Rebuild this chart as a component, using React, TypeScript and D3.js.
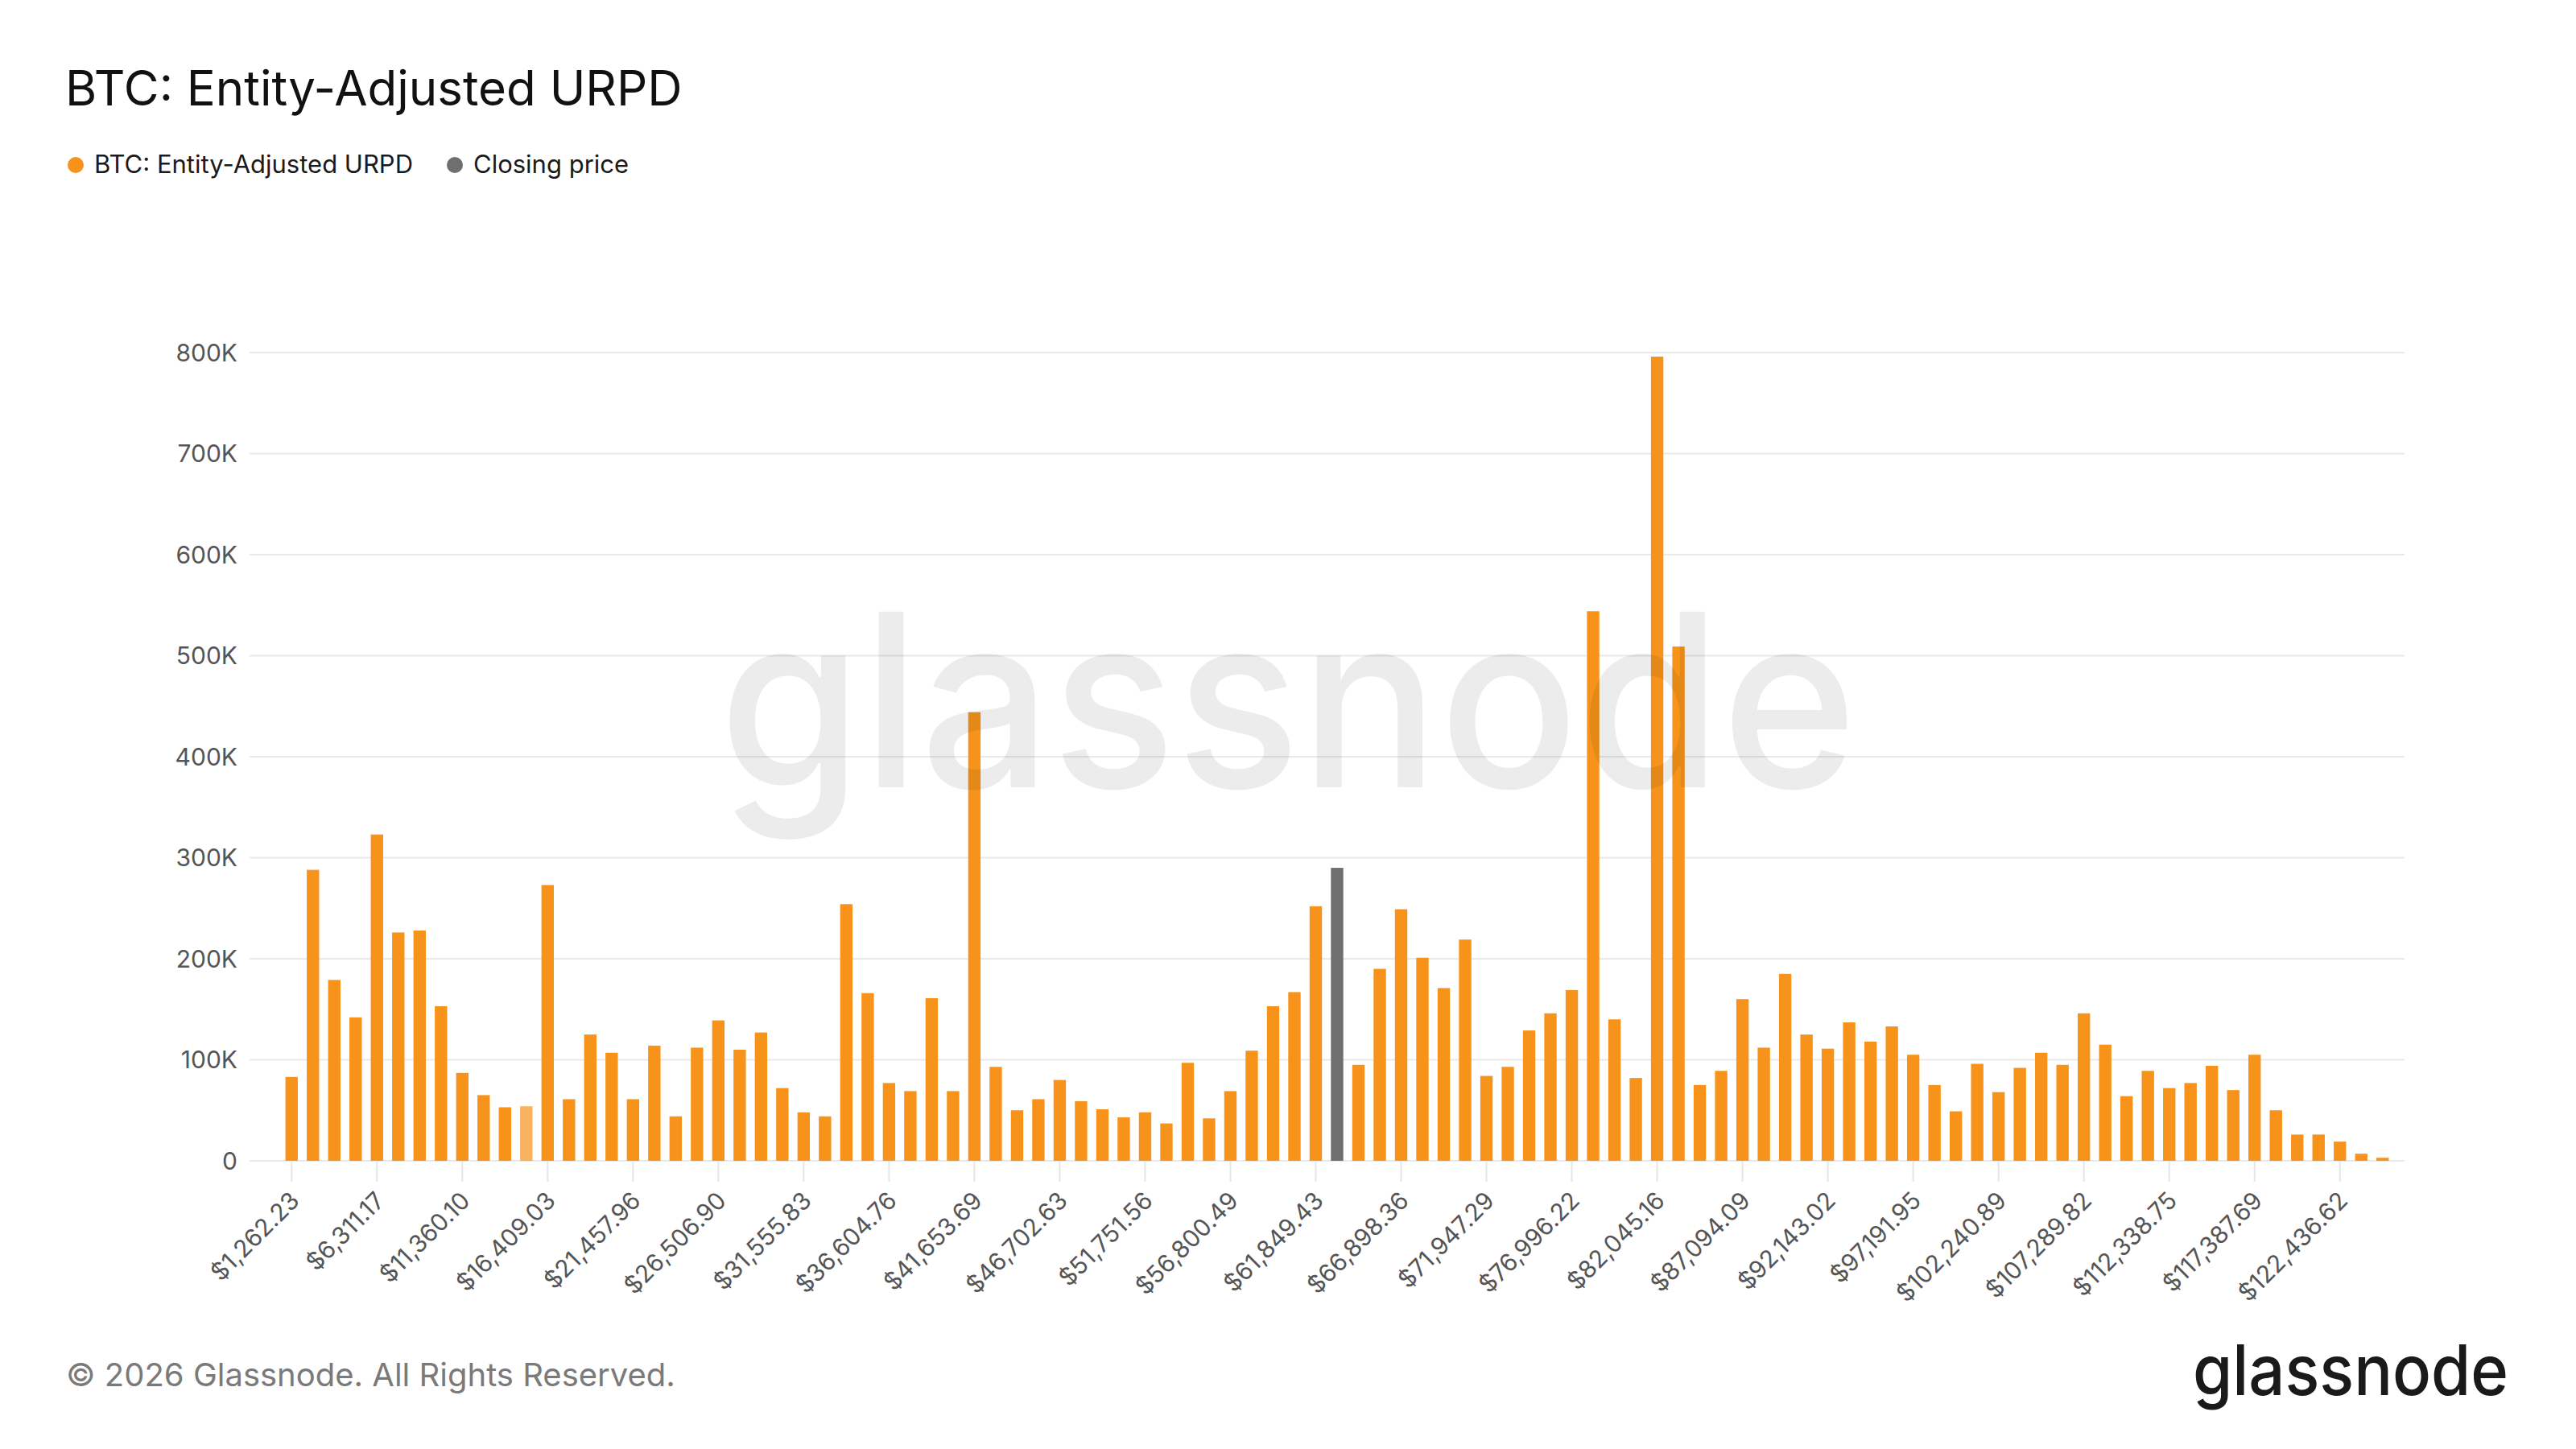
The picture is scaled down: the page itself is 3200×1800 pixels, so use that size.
import React from 'react'
import * as d3 from 'd3'

// supply per price bucket, in thousands of BTC
const urpdValues = [
  83, 288, 179, 142, 323, 226, 228, 153, 87, 65,
  53, 54, 273, 61, 125, 107, 61, 114, 44, 112,
  139, 110, 127, 72, 48, 44, 254, 166, 77, 69,
  161, 69, 444, 93, 50, 61, 80, 59, 51, 43,
  48, 37, 97, 42, 69, 109, 153, 167, 252, 290,
  95, 190, 249, 201, 171, 219, 84, 93, 129, 146,
  169, 544, 140, 82, 796, 509, 75, 89, 160, 112,
  185, 125, 111, 137, 118, 133, 105, 75, 49, 96,
  68, 92, 107, 95, 146, 115, 64, 89, 72, 77,
  94, 70, 105, 50, 26, 26, 19, 7, 3,
]

// labels shown under every 4th bucket
const tickLabels = [
  '$1,262.23', '$6,311.17', '$11,360.10', '$16,409.03', '$21,457.96',
  '$26,506.90', '$31,555.83', '$36,604.76', '$41,653.69', '$46,702.63',
  '$51,751.56', '$56,800.49', '$61,849.43', '$66,898.36', '$71,947.29',
  '$76,996.22', '$82,045.16', '$87,094.09', '$92,143.02', '$97,191.95',
  '$102,240.89', '$107,289.82', '$112,338.75', '$117,387.69', '$122,436.62',
]
const tickEvery = 4

const yTicks = [0, 100, 200, 300, 400, 500, 600, 700, 800]

const closingPriceIndex = 49
const highlightIndex = 11

const ORANGE = '#f7931a'
const GREY = '#6f6f6f'
const FONT = 'Inter, "Noto Sans", sans-serif'

const W = 3200
const H = 1800

export default function App() {
  const x = d3.scaleBand<number>()
    .domain(d3.range(urpdValues.length))
    .range([349, 2973])
    .paddingInner(0.42)
    .paddingOuter(0.21)

  const y = d3.scaleLinear().domain([0, 800]).range([1442, 438])

  const gridX0 = 310
  const gridX1 = 2987

  return (
    <svg
      width={W}
      height={H}
      style={{ position: 'absolute', left: 0, top: 0, background: '#fff' }}
      fontFamily={FONT}
    >
      <rect width={W} height={H} fill="#fff" />

      {/* title + legend */}
      <text x={81} y={131} fontSize={60} fill="#111">BTC: Entity-Adjusted URPD</text>
      <circle cx={94} cy={205} r={10} fill={ORANGE} />
      <text x={117} y={215} fontSize={31} fill="#1a1a1a">BTC: Entity-Adjusted URPD</text>
      <circle cx={565} cy={205} r={10} fill={GREY} />
      <text x={588} y={215} fontSize={31} fill="#1a1a1a">Closing price</text>

      {/* grid */}
      {yTicks.map(t => (
        <g key={t}>
          <line x1={gridX0} x2={gridX1} y1={y(t)} y2={y(t)} stroke="#e9e9e9" strokeWidth={2} />
          <text x={295} y={y(t)} dy="0.35em" textAnchor="end" fontSize={30} fill="#555">
            {t === 0 ? '0' : `${t}K`}
          </text>
        </g>
      ))}

      {/* bars */}
      {urpdValues.map((v, i) => (
        <rect
          key={i}
          x={x(i)}
          y={y(v)}
          width={x.bandwidth()}
          height={y(0) - y(v)}
          fill={i === closingPriceIndex ? GREY : ORANGE}
          fillOpacity={i === highlightIndex ? 0.7 : 1}
        />
      ))}

      {/* x ticks */}
      {tickLabels.map((lab, k) => {
        const cx = (x(k * tickEvery) as number) + x.bandwidth() / 2
        return (
          <g key={lab}>
            <line x1={cx} x2={cx} y1={1443} y2={1468} stroke="#e6e6e6" strokeWidth={2} />
            <text
              transform={`translate(${cx + 4},${1486}) rotate(-45)`}
              textAnchor="end"
              dy="0.35em"
              fontSize={30}
              fill="#555"
            >
              {lab}
            </text>
          </g>
        )
      })}

      {/* watermark */}
      <text
        x={893}
        y={978}
        fontSize={300}
        fontWeight={500}
        textLength={1414}
        lengthAdjust="spacingAndGlyphs"
        fill="#000"
        fillOpacity={0.075}
      >
        glassnode
      </text>

      {/* footer */}
      <text x={82} y={1722} fontSize={40} fill="#7a7a7a">© 2026 Glassnode. All Rights Reserved.</text>
      <text
        x={2724}
        y={1733}
        fontSize={86}
        fontWeight={500}
        textLength={392}
        lengthAdjust="spacingAndGlyphs"
        fill="#1a1a1a"
      >
        glassnode
      </text>
    </svg>
  )
}
